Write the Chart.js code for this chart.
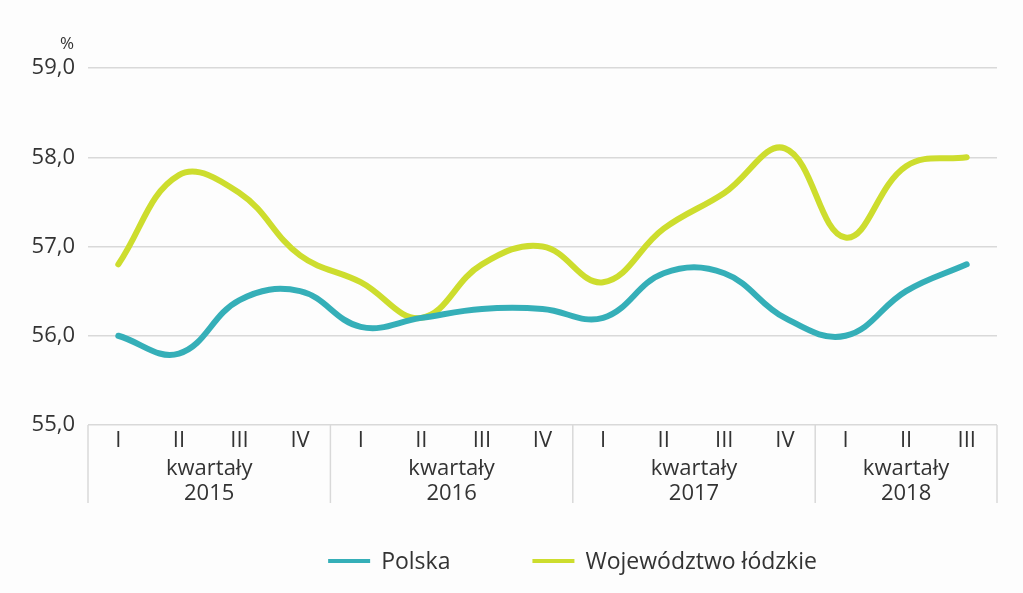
<!DOCTYPE html>
<html>
<head>
<meta charset="utf-8">
<script src="https://cdn.jsdelivr.net/npm/chart.js@4"></script>
<style>
  html, body { margin: 0; padding: 0; background: #fdfdfd; }
  #wrap { width: 1023px; height: 593px; }
</style>
</head>
<body>
<div id="wrap"><canvas id="c" width="1023" height="593"></canvas></div>
<script>
const quarterLabels = ['I','II','III','IV','I','II','III','IV','I','II','III','IV','I','II','III'];
const groupLabels = ['kwartały\n2015','kwartały\n2016','kwartały\n2017','kwartały\n2018'];
const groupSizes = [4, 4, 4, 3];
const polska = [56.0, 55.8, 56.4, 56.5, 56.1, 56.2, 56.3, 56.3, 56.2, 56.7, 56.7, 56.2, 56.0, 56.5, 56.8];
const lodzkie = [56.8, 57.8, 57.6, 56.9, 56.6, 56.2, 56.8, 57.0, 56.6, 57.2, 57.6, 58.1, 57.1, 57.9, 58.0];
const yTicks = [55, 56, 57, 58, 59];
const unitLabel = '%';

const FONT = "'Open Sans', 'Noto Sans', sans-serif";
const TEXT = '#333333';
const GRID = '#d9d9d9';

const groupPlugin = {
  id: 'groups',
  afterDraw(chart) {
    const ctx = chart.ctx;
    const xs = chart.scales.x;
    const ys = chart.scales.y;
    const area = chart.chartArea;
    const top = area.bottom;
    const bottom = top + 78;
    const step = xs.getPixelForValue(1) - xs.getPixelForValue(0);
    ctx.save();
    ctx.strokeStyle = GRID;
    ctx.lineWidth = 1.5;
    let start = 0;
    const bounds = [];
    groupSizes.forEach((n) => {
      const l = xs.getPixelForValue(start) - step / 2;
      const r = xs.getPixelForValue(start + n - 1) + step / 2;
      bounds.push([l, r]);
      start += n;
    });
    const edges = [bounds[0][0]].concat(bounds.map(b => b[1]));
    edges.forEach(x => {
      ctx.beginPath();
      ctx.moveTo(x, top);
      ctx.lineTo(x, bottom);
      ctx.stroke();
    });
    ctx.fillStyle = TEXT;
    ctx.font = '22px ' + FONT;
    ctx.textAlign = 'center';
    ctx.textBaseline = 'middle';
    bounds.forEach((b, i) => {
      const lines = groupLabels[i].split('\n');
      const cx = (b[0] + b[1]) / 2;
      lines.forEach((t, j) => ctx.fillText(t, cx, top + 44 + j * 25));
    });
    // unit label
    ctx.font = '17px ' + FONT;
    ctx.textAlign = 'right';
    ctx.fillText(unitLabel, xs.left - 14, ys.getPixelForValue(59) - 24);

    // legend
    ctx.font = '23px ' + FONT;
    ctx.textAlign = 'left';
    const ds = chart.data.datasets;
    const boxW = 42, gapText = 11, gapItem = 82;
    const widths = ds.map(d => ctx.measureText(d.label).width);
    let total = 0;
    widths.forEach((w, i) => { total += boxW + gapText + w + (i < widths.length - 1 ? gapItem : 0); });
    let x = (area.left + area.right) / 2 + 30 - total / 2;
    const ly = 561;
    ds.forEach((d, i) => {
      ctx.strokeStyle = d.borderColor;
      ctx.lineWidth = 4;
      ctx.lineCap = 'butt';
      ctx.beginPath();
      ctx.moveTo(x, ly);
      ctx.lineTo(x + boxW, ly);
      ctx.stroke();
      ctx.fillText(d.label, x + boxW + gapText, ly + 1);
      x += boxW + gapText + widths[i] + gapItem;
    });
    ctx.restore();
  }
};

new Chart(document.getElementById('c'), {
  type: 'line',
  data: {
    labels: quarterLabels,
    datasets: [
      { label: 'Polska', data: polska, borderColor: '#35afb8', backgroundColor: '#35afb8',
        borderWidth: 6, pointRadius: 0, tension: 0.4, borderCapStyle: 'round', borderJoinStyle: 'round' },
      { label: 'Województwo łódzkie', data: lodzkie, borderColor: '#cddd2e', backgroundColor: '#cddd2e',
        borderWidth: 6, pointRadius: 0, tension: 0.4, borderCapStyle: 'round', borderJoinStyle: 'round' }
    ]
  },
  options: {
    responsive: false,
    animation: false,
    devicePixelRatio: 1,
    layout: { padding: { top: 68, right: 26, bottom: 83, left: 0 } },
    plugins: {
      legend: { display: false },
      tooltip: { enabled: false }
    },
    scales: {
      x: {
        offset: true,
        grid: { display: false, drawTicks: false },
        border: { display: false },
        ticks: { color: TEXT, font: { family: FONT, size: 22 }, padding: 3, maxRotation: 0, autoSkip: false },
        afterFit(s) { s.height = 85; }
      },
      y: {
        min: 55, max: 59,
        afterBuildTicks(s) { s.ticks = yTicks.map(v => ({ value: v })); },
        grid: { color: GRID, lineWidth: 1.5, drawTicks: false },
        border: { display: false },
        ticks: {
          color: TEXT, font: { family: FONT, size: 22 }, padding: 13,
          callback: v => v.toFixed(1).replace('.', ',')
        },
        afterFit(s) { s.width = 88; }
      }
    }
  },
  plugins: [groupPlugin]
});
</script>
</body>
</html>
